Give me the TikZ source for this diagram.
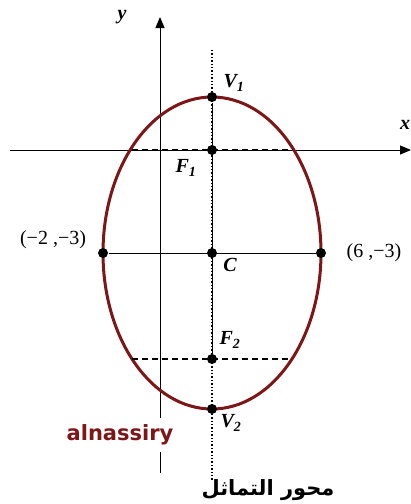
\documentclass[tikz,border=0pt]{standalone}
\usepackage{fontspec}
\setmainfont{Liberation Serif}
\newfontfamily\namefont{DejaVu Sans}
\newfontfamily\arabicfont[Script=Arabic]{DejaVu Sans}
\TeXXeTstate=1
\usetikzlibrary{arrows.meta, positioning}
\definecolor{curvered}{RGB}{125,22,22}

\begin{document}
\begin{tikzpicture}[x=1pt, y=-1pt, line width=1pt]
        \useasboundingbox (0,0) rectangle (411,504);
        \tikzset{pt/.style={circle, fill=black, inner sep=0pt, minimum size=10pt},
                 lbl/.style={font=\fontsize{20}{20}\selectfont\bfseries\itshape},
                 coord/.style={font=\fontsize{20}{20}\selectfont},
                 chord/.style={dash pattern=on 6pt off 4pt, line width=1.3pt}}

        % Axes
        \draw[-{Triangle[length=11pt, width=9pt]}] (10,150) -- (411,150);
        \node[lbl] (xlab) at (405,125) {x};
        \draw[-{Triangle[length=11pt, width=9pt]}] (160,473) -- (160,17);
        \node[lbl] (ylab) at (122,17) {y};

        % Ellipse
        \draw[curvered, line width=3pt] (212,253) ellipse [x radius=109, y radius=156];

        % Points
        \node[pt] (V1) at (212,97) {};
        \node[pt] (F1) at (212,150) {};
        \node[pt] (C) at (212,253) {};
        \node[pt] (F2) at (212,359) {};
        \node[pt] (V2) at (212,409) {};
        \node[pt] (L) at (103,253) {};
        \node[pt] (R) at (321,253) {};

        % Axis of symmetry
        \coordinate (top) at (212,50);
        \coordinate (bot) at (212,481);
        \draw[dotted, line width=1.4pt] (top) -- (bot);
        \draw (V1) -- (F2);

        % Major axis and chords through the foci
        \draw (L) -- (R);
        \coordinate (f1l) at (132,149.5);
        \coordinate (f1r) at (293,149.5);
        \draw[chord] (f1l) -- (f1r);
        \coordinate (f2l) at (132,359);
        \coordinate (f2r) at (288,359);
        \draw[chord] (f2l) -- (f2r);

        % Labels
        \node[lbl] at (234,83) {V\textsubscript{1}};
        \node[lbl] at (186,168) {F\textsubscript{1}};
        \node[lbl] at (230,265) {C};
        \node[lbl] at (230,340) {F\textsubscript{2}};
        \node[lbl] at (231,423) {V\textsubscript{2}};
        \node[coord] at (53,240) {(−2 ,−3)};
        \node[coord] at (374,253) {(6 ,−3)};

        \node[fill=white, inner xsep=2pt, inner ysep=7pt, text=curvered,
              font=\namefont\bfseries\fontsize{21}{21}\selectfont] (name) at (120,435) {alnassiry};
        \node[font=\arabicfont\bfseries\fontsize{21}{21}\selectfont] (axis) at (268,490) {\beginR محور التماثل\endR};

    \end{tikzpicture}
\end{document}
